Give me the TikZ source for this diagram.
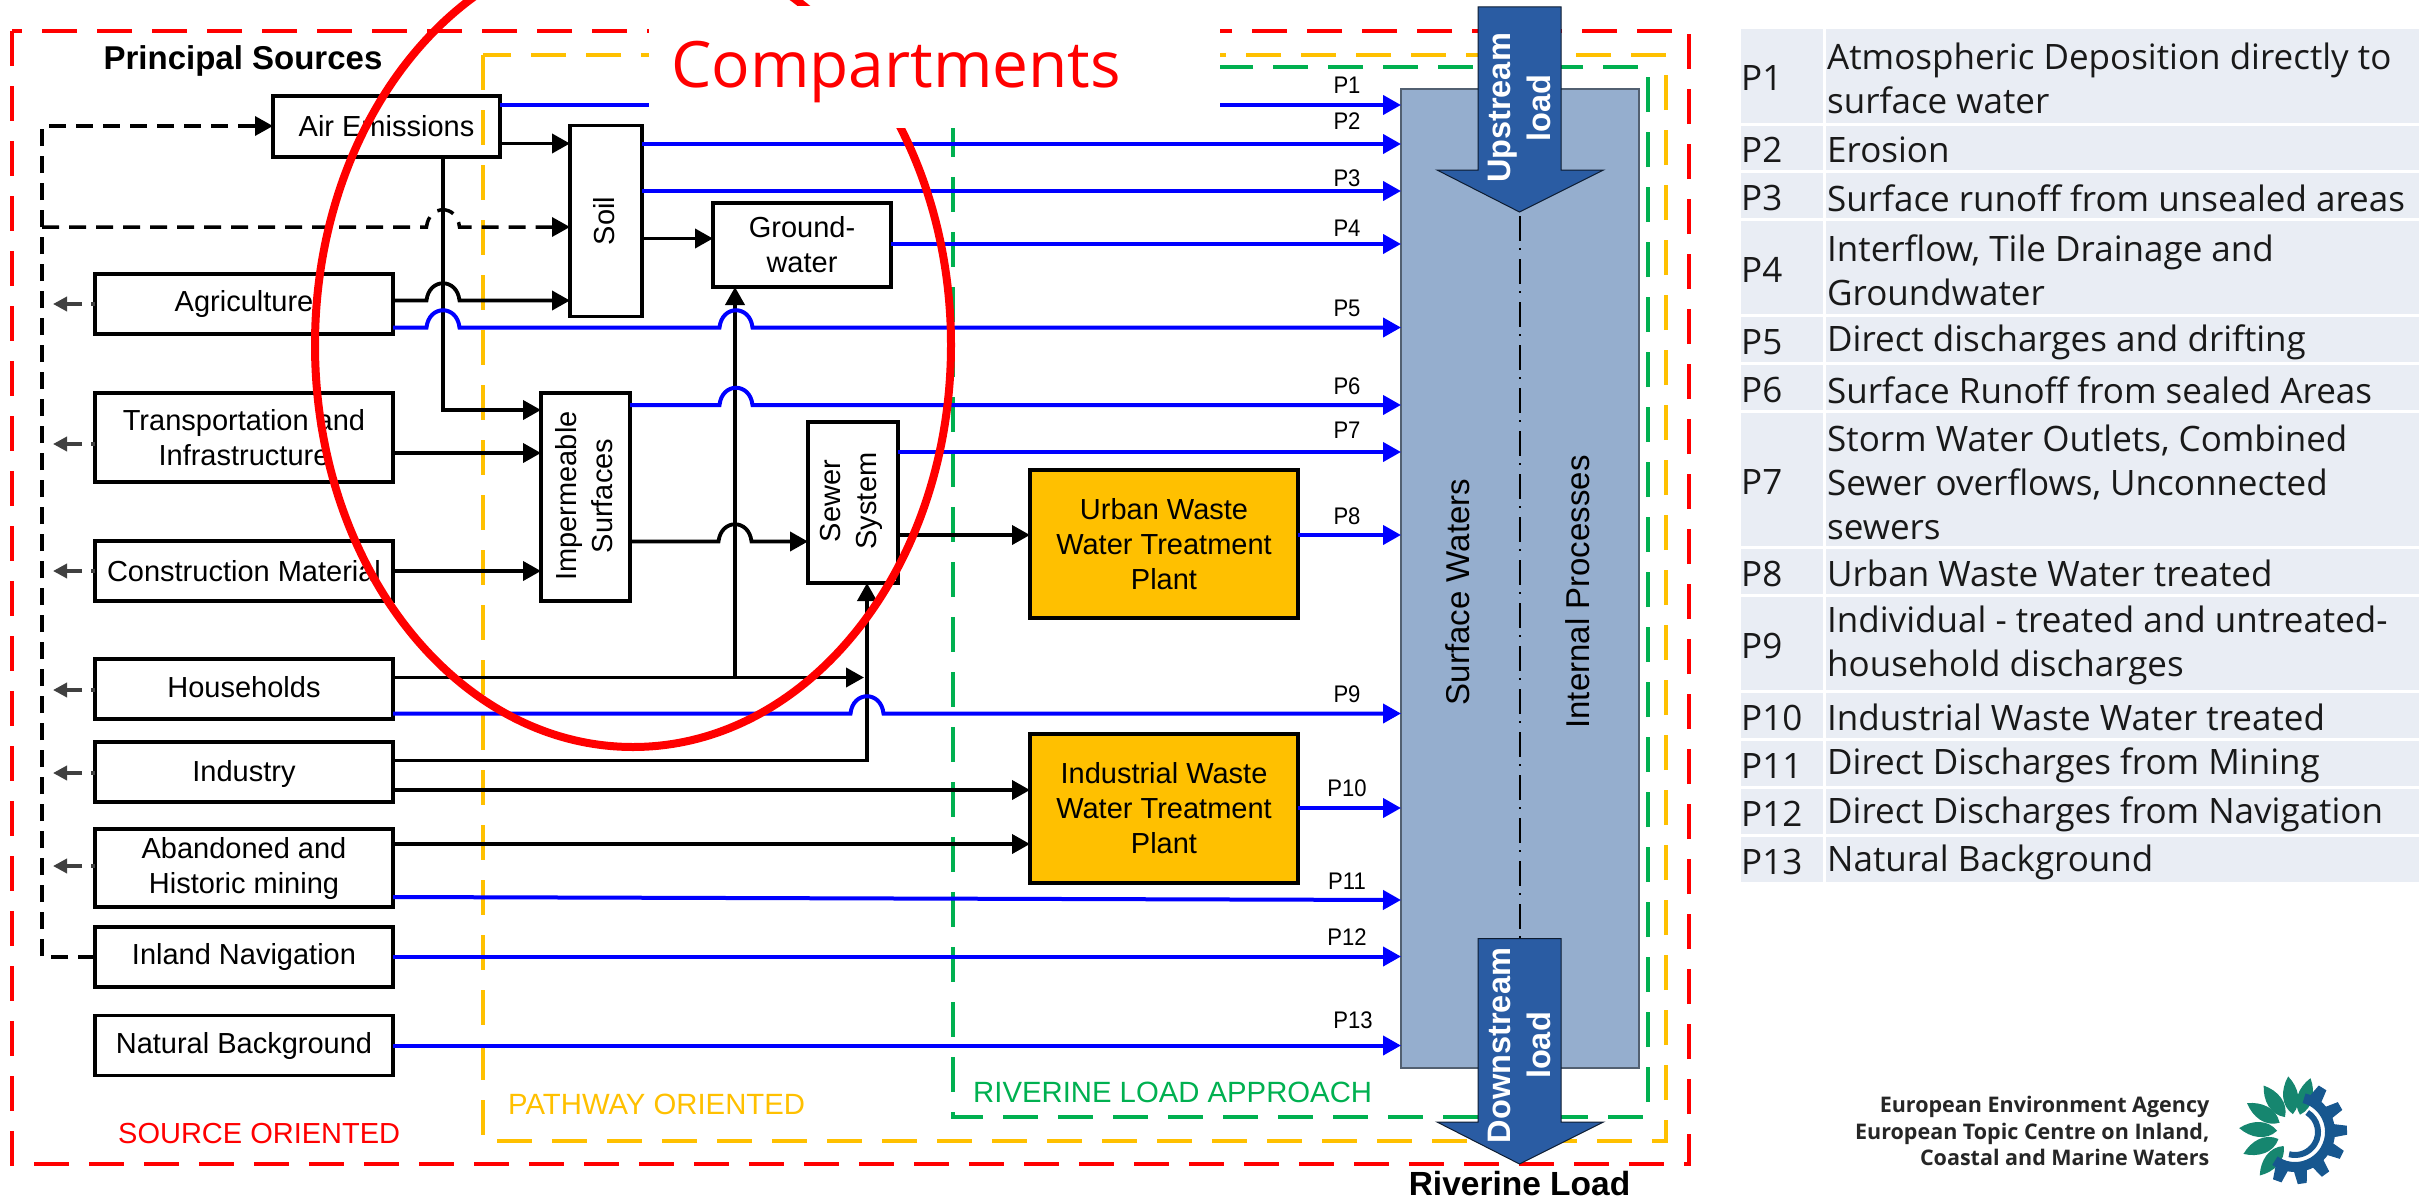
\documentclass[tikz,border=0pt]{standalone}
\usepackage{fontspec}
\setmainfont{Liberation Sans}
\newfontfamily\tablefont{Open Sans}
\usetikzlibrary{arrows.meta}
\definecolor{frameyellow}{HTML}{FFC000}
\definecolor{framegreen}{HTML}{00B050}
\definecolor{waterblue}{HTML}{95AECE}
\definecolor{loadblue}{HTML}{2A5CA3}
\definecolor{rowblue}{HTML}{E9EDF4}
\definecolor{logogreen}{HTML}{16866F}
\definecolor{logoblue}{HTML}{17578F}
\tikzset{
    frame/.style={line width=4.5, dash pattern=on 35pt off 20pt},
    box/.style={draw=black, line width=3.8, inner sep=0pt, outer sep=0pt, align=center, font=\fontsize{29}{35}\selectfont},
    srcbox/.style={box, minimum width=298, minimum height=60},
    plantbox/.style={box, fill=frameyellow, minimum width=268},
    vtext/.style={rotate=90, align=center, font=\fontsize{29}{36}\selectfont},
    flow/.style={draw=black, line width=3.8, -{Triangle[length=18pt,width=19pt]}},
    pathway/.style={draw=blue, line width=4, -{Triangle[length=18pt,width=19pt]}},
    railline/.style={draw=black, line width=3.5, dash pattern=on 17pt off 10pt},
    leak/.style={draw=black!75, line width=3.5, dash pattern=on 4pt off 9pt on 40pt, -{Triangle[length=14pt,width=14pt]}},
    plabel/.style={inner sep=0pt, xscale=.92, font=\fontsize{24}{28}\selectfont},
    approach/.style={inner sep=0pt, anchor=base west, font=\fontsize{29.3}{35}\selectfont},
    loadarrow/.style={fill=loadblue, draw=black!70!loadblue, line width=1},
    loadtext/.style={rotate=90, align=center, text=white, font=\bfseries\fontsize{32.5}{40}\selectfont},
    rowtext/.style={inner sep=0pt, anchor=west, align=left, yshift=-2.5pt, text=black!90, font=\tablefont\fontsize{35}{44}\selectfont},
    logotext/.style={inner sep=0pt, anchor=base east, text=black!85, font=\tablefont\bfseries\fontsize{21.5}{25}\selectfont},
}
\newcommand{\hop}[2]{-- (#1-16.5,#2) .. controls (#1-14,#2-23) and (#1+14,#2-23) .. (#1+16.5,#2)}
\newcommand{\pRow}[5]{%
    \fill[rowblue] (1741,#2) rectangle (1823,#3);
    \fill[rowblue] (1826,#2) rectangle (2419,#3);
    \node[rowtext] (#1name) at (1741,{(#2+#3)/2}) {#4};
    \node[rowtext] (#1text) at (1827,{(#2+#3)/2}) {#5};
}
\begin{document}
\begin{tikzpicture}[x=1pt, y=-1pt]
    \useasboundingbox (0,0) rectangle (2428,1199);

    %approach frames
    \draw[frame, red] (12,31) rectangle (1689,1164);
    \draw[frame, frameyellow] (483,55) rectangle (1666,1141);
    \draw[frame, framegreen] (953,67) rectangle (1648,1117);

    %surface water body
    \node[draw=black!45!waterblue, fill=waterblue, line width=1.5, inner sep=0pt, outer sep=0pt, minimum width=238, minimum height=979] (surface) at (1520,578.5) {};
    \node[vtext, font=\fontsize{33}{36}\selectfont] (surfacetext) at (1458,592) {Surface Waters};
    \node[vtext, font=\fontsize{33}{36}\selectfont] (internaltext) at (1577.5,592) {Internal Processes};
    \draw[black, line width=2, dash pattern=on 25pt off 7pt on 2pt off 9pt] (1519.5,216) -- (1519.5,938);

    %sources
    \node[box, minimum width=227, minimum height=61] (air) at (386.5,126.5) {Air Emissions};
    \node[srcbox] (agri) at (244,304) {Agriculture};
    \node[srcbox, minimum height=89] (transport) at (244,437.5) {Transportation and\\Infrastructure};
    \node[srcbox] (construction) at (244,571) {Construction Material};
    \node[srcbox] (households) at (244,689) {};
    \node[inner sep=0pt, font=\fontsize{29}{35}\selectfont] (householdstext) at (244,687.5) {Households};
    \node[srcbox] (industry) at (244,772) {};
    \node[inner sep=0pt, font=\fontsize{29}{35}\selectfont] (industrytext) at (244,773.5) {Industry};
    \node[srcbox, minimum height=78] (mining) at (244,868) {Abandoned and\\Historic mining};
    \node[srcbox] (inland) at (244,957) {Inland Navigation};
    \node[srcbox] (natural) at (244,1045.5) {Natural Background};

    %compartments
    \node[box, minimum width=72, minimum height=191] (soil) at (606,221) {};
    \node[vtext] (soiltext) at (604,221) {Soil};
    \node[box, minimum width=178, minimum height=84] (ground) at (802,245) {Ground-\\water};
    \node[box, minimum width=89, minimum height=208] (imperm) at (585.5,497) {};
    \node[vtext] (impermtext) at (584,496) {Impermeable\\Surfaces};
    \node[box, minimum width=90, minimum height=161] (sewer) at (853,502.5) {};
    \node[vtext] (sewertext) at (851,501) {Sewer\\System};
    \node[plantbox, minimum height=148] (urban) at (1164,544) {Urban Waste\\Water Treatment\\Plant};
    \node[plantbox, minimum height=149] (indwaste) at (1164,808.5) {Industrial Waste\\Water Treatment\\Plant};

    %titles
    \node[inner sep=0pt, font=\bfseries\fontsize{33}{40}\selectfont] (principal) at (243,61) {Principal Sources};
    \node[inner sep=0pt, font=\bfseries\fontsize{33.5}{40}\selectfont] (riverine) at (1519.5,1184) {Riverine Load};
    \node[approach, text=red, font=\fontsize{29}{35}\selectfont] (sourcelab) at (118,1143) {SOURCE ORIENTED};
    \node[approach, text=frameyellow] (pathlab) at (508,1114) {PATHWAY ORIENTED};
    \node[approach, text=framegreen] (riverlab) at (973,1102) {RIVERINE LOAD APPROACH};

    %black flows
    \draw[flow] (air.east |- 0,143.5) -- (soil.west |- 0,143.5);
    \draw[flow] (air.south -| 443,0) -- (443,410) -- (imperm.west |- 0,410);
    \draw[flow] (agri.east |- 0,300.5) \hop{443}{300.5} -- (soil.west |- 0,300.5);
    \draw[flow] (transport.east |- 0,453) -- (imperm.west |- 0,453);
    \draw[flow] (construction.east |- 0,571) -- (imperm.west |- 0,571);
    \draw[flow] (soil.east |- 0,238.5) -- (ground.west |- 0,238.5);
    \draw[flow] (imperm.east |- 0,541.5) \hop{735}{541.5} -- (sewer.west |- 0,541.5);
    \draw[flow] (households.east |- 0,677.5) -- (864,677.5);
    \draw[flow] (735,677.5) -- (ground.south -| 735,0);
    \draw[flow] (industry.east |- 0,760.5) -- (867,760.5) -- (sewer.south -| 867,0);
    \draw[flow] (industry.east |- 0,790) -- (indwaste.west |- 0,790);
    \draw[flow] (mining.east |- 0,844) -- (indwaste.west |- 0,844);
    \draw[flow] (sewer.east |- 0,535) -- (urban.west |- 0,535);

    %dashed return rail
    \coordinate (railbottom) at (42,957);
    \coordinate (railtop) at (42,126);
    \coordinate (railsoil) at (42,227);
    \coordinate (leakend) at (53,0);
    \draw[railline, -{Triangle[length=18pt,width=19pt]}] (inland.west |- railbottom) -- (railbottom) -- (railtop) -- (air.west |- railtop);
    \draw[railline, -{Triangle[length=18pt,width=19pt]}] (railsoil) \hop{443}{227} -- (soil.west |- railsoil);
    \foreach \src/\y in {agri/304,transport/444,construction/571,households/690,industry/773,mining/866}{
    \draw[leak] (\src.west |- 0,\y) -- (leakend |- 0,\y);
    }

    %blue pathways
    \foreach \src/\y/\lab/\lx/\ly in {air/105/P1/1347/85,soil/144/P2/1347/121,soil/191/P3/1347/178,ground/244/P4/1347/228,sewer/452/P7/1347/430,urban/535/P8/1347/516,indwaste/808/P10/1347/788,inland/956.5/P12/1347/937,natural/1045.5/P13/1353/1020}{
    \draw[pathway] (\src.east |- 0,\y) -- (surface.west |- 0,\y);
    \node[plabel] (lab\lab) at (\lx,\ly) {\lab};
    }
    \draw[pathway] (agri.east |- 0,327.5) \hop{443}{327.5} \hop{736}{327.5} -- (surface.west |- 0,327.5);
    \node[plabel] (labP5) at (1347,308) {P5};
    \draw[pathway] (imperm.east |- 0,405) \hop{736}{405} -- (surface.west |- 0,405);
    \node[plabel] (labP6) at (1347,386) {P6};
    \draw[pathway] (households.east |- 0,713.5) \hop{867}{713.5} -- (surface.west |- 0,713.5);
    \node[plabel] (labP9) at (1347,694) {P9};
    \draw[pathway] (mining.east |- 0,897) -- (surface.west |- 0,900);
    \node[plabel] (labP11) at (1347,881) {P11};

    %compartments ring and its title
    \draw[red, line width=8] (633,345) ellipse (318 and 402);
    \fill[white] (649,6) rectangle (1220,128);
    \node[inner sep=0pt, anchor=base, text=red, font=\tablefont\fontsize{64}{70}\selectfont] (comptitle) at (896,88) {Compartments};

    %load arrows
    \draw[loadarrow] (1478,7) -- (1561,7) -- (1561,170) -- (1603.5,170) -- (1519.5,212) -- (1437,170) -- (1478,170) -- cycle;
    \node[loadtext] (upstream) at (1519.5,108) {Upstream\\load};
    \draw[loadarrow] (1478,938.5) -- (1561,938.5) -- (1561,1122) -- (1603.5,1122) -- (1519.5,1164) -- (1437,1122) -- (1478,1122) -- cycle;
    \node[loadtext] (downstream) at (1519.5,1045.5) {Downstream\\load};

    %pathway table
    \pRow{rowa}{29}{122.5}{P1}{Atmospheric Deposition directly to\\surface water}
    \pRow{rowb}{125.5}{170}{P2}{Erosion}
    \pRow{rowc}{173}{218}{P3}{Surface runoff from unsealed areas}
    \pRow{rowd}{221}{314}{P4}{Interflow, Tile Drainage and\\Groundwater}
    \pRow{rowe}{317}{362}{P5}{Direct discharges and drifting}
    \pRow{rowf}{365}{410}{P6}{Surface Runoff from sealed Areas}
    \pRow{rowg}{413}{546}{P7}{Storm Water Outlets, Combined\\Sewer overflows, Unconnected\\sewers}
    \pRow{rowh}{549}{593.5}{P8}{Urban Waste Water treated}
    \pRow{rowi}{596.5}{690}{P9}{Individual - treated and untreated-\\household discharges}
    \pRow{rowj}{693}{737.5}{P10}{Industrial Waste Water treated}
    \pRow{rowk}{740.5}{786}{P11}{Direct Discharges from Mining}
    \pRow{rowl}{789}{834}{P12}{Direct Discharges from Navigation}
    \pRow{rowm}{837}{882}{P13}{Natural Background}

    %agency mark
    \node[logotext] (logoa) at (2209.5,1112) {European Environment Agency};
    \node[logotext] (logob) at (2209.5,1139) {European Topic Centre on Inland,};
    \node[logotext] (logoc) at (2209.5,1165) {Coastal and Marine Waters};
    \begin{scope}[shift={(2295,1132)}, x=1pt, y=1pt]
    \foreach \a in {74,97,124,149,176,203,231}{
    \fill[logogreen, rotate=\a] (18,0) .. controls (28,11) and (44,9) .. (56,0) .. controls (44,-9) and (28,-11) .. (18,0);
    }
    \draw[logoblue, line width=10] (75:35) arc (75:-125:35);
    \draw[logoblue, line width=6] (58:23) arc (58:-105:23);
    \foreach \a in {58,30,2,-26,-54,-82,-110}{
    \fill[logoblue, rotate=\a] (36,-7) -- (52,-4.5) -- (52,4.5) -- (36,7) -- cycle;
    }
    \end{scope}
\end{tikzpicture}
\end{document}
